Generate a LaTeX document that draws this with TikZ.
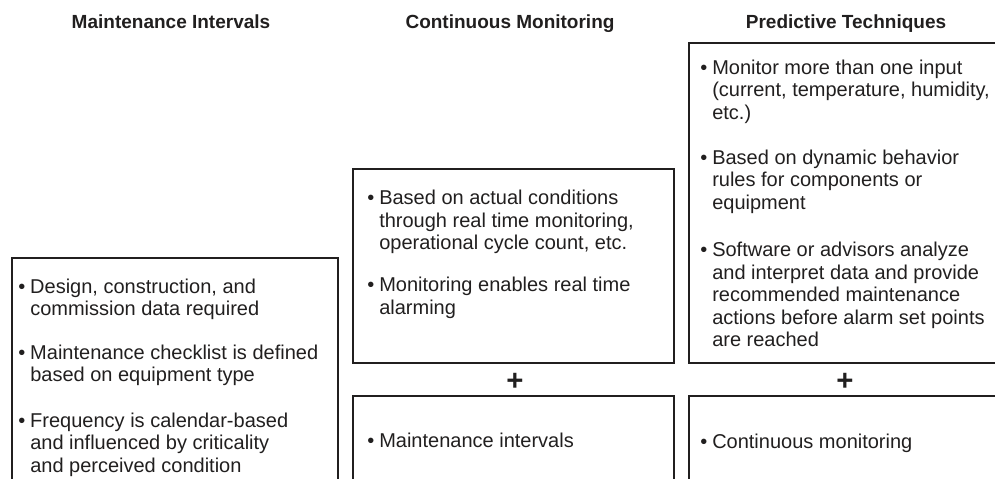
\documentclass[tikz,border=0pt]{standalone}
\usepackage{fontspec}
\setmainfont{Liberation Sans}
\usetikzlibrary{positioning}
\definecolor{ink}{rgb}{0.13,0.12,0.12}

\newcommand{\bul}{\strut\makebox[9pt][l]{\textbullet}}
\newcommand{\ind}{\hspace*{9pt}}

\tikzset{
  every picture/.style={x=0.75pt, y=-0.75pt},
  frame/.style={draw=ink, line width=1pt},
  head/.style={anchor=base, inner sep=0pt, text=ink, font=\fontsize{14.25pt}{16pt}\selectfont\bfseries},
  item/.style={anchor=north west, align=left, inner sep=0pt, text=ink, font=\fontsize{15pt}{16.8pt}\selectfont},
  plus/.style={anchor=base, inner sep=0pt, text=ink, font=\fontsize{22pt}{24pt}\selectfont\bfseries}
}

\begin{document}
\begin{tikzpicture}
  \path [use as bounding box, clip] (0,0) rectangle (995,478);

  % headings
  \node [head] (hmaint) at (171,29) {Maintenance Intervals};
  \node [head] (hcont) at (510,29) {Continuous Monitoring};
  \node [head] (hpred) at (846,29) {Predictive Techniques};

  % boxes, open at the bottom
  \draw [frame] (12,520) -- (12,258) -- (338,258) -- (338,520);
  \draw [frame] (353,169) rectangle (674,363);
  \draw [frame] (353,520) -- (353,396) -- (674,396) -- (674,520);
  \draw [frame] (1000,363) -- (689,363) -- (689,43) -- (1000,43);
  \draw [frame] (689,520) -- (689,396) -- (1000,396);

  % maintenance intervals
  \node [item] (m1) at (18,277.3) {\bul Design, construction, and\\\ind commission data required};
  \node [item] (m2) at (18,343.3) {\bul Maintenance checklist is defined\\\ind based on equipment type};
  \node [item] (m3) at (18,411.3) {\bul Frequency is calendar-based\\\ind and influenced by criticality\\\ind and perceived condition};

  % continuous monitoring
  \node [item] (c1) at (367,188.8) {\bul Based on actual conditions\\\ind through real time monitoring,\\\ind operational cycle count, etc.};
  \node [item] (c2) at (367,276.0) {\bul Monitoring enables real time\\\ind alarming};
  \node [plus] (cplus) at (515,390.5) {+};
  \node [item] (c3) at (367,431.3) {\bul Maintenance intervals};

  % predictive techniques
  \node [item] (p1) at (700,58.3) {\bul Monitor more than one input\\\ind (current, temperature, humidity,\\\ind etc.)};
  \node [item] (p2) at (700,148.3) {\bul Based on dynamic behavior\\\ind rules for components or\\\ind equipment};
  \node [item] (p3) at (700,241.0) {\bul Software or advisors analyze\\\ind and interpret data and provide\\\ind recommended maintenance\\\ind actions before alarm set points\\\ind are reached};
  \node [plus] (pplus) at (845,390.5) {+};
  \node [item] (p4) at (700,432.3) {\bul Continuous monitoring};
\end{tikzpicture}
\end{document}
